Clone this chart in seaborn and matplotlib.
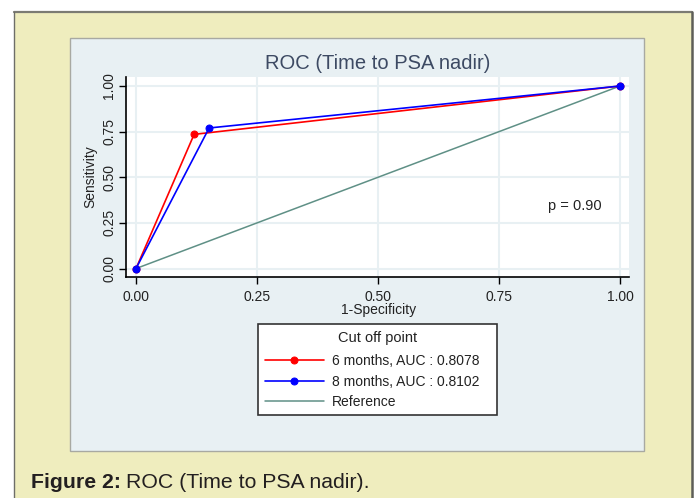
import matplotlib
matplotlib.use("Agg")
import matplotlib.pyplot as plt
import seaborn as sns
from matplotlib.patches import Rectangle
from matplotlib.lines import Line2D
from matplotlib import font_manager

# ==========================================
# DATA
# ==========================================

fpr_6m = [0.0, 0.12, 1.0]
tpr_6m = [0.0, 0.735, 1.0]

fpr_8m = [0.0, 0.151, 1.0]
tpr_8m = [0.0, 0.77, 1.0]

ref_x = [0.0, 1.0]
ref_y = [0.0, 1.0]

labels = ["6 months, AUC : 0.8078", "8 months, AUC : 0.8102", "Reference"]
ticks = [0.0, 0.25, 0.50, 0.75, 1.0]
tick_labels = ["0.00", "0.25", "0.50", "0.75", "1.00"]

# ==========================================
# STYLE
# ==========================================

sns.set_style("white")
plt.rcParams["font.family"] = ["Liberation Sans", "DejaVu Sans"]

names = {f.name for f in font_manager.fontManager.ttflist}
caption_font = "Liberation Sans Narrow" if "Liberation Sans Narrow" in names else "Liberation Sans"

W, H = 695, 498
fig = plt.figure(figsize=(W / 100, H / 100), dpi=100, facecolor="white")


def fx(px):
    return px / W


def fy(py):
    return 1 - py / H


# cream outer panel
fig.add_artist(Rectangle((fx(14), 0), fx(692) - fx(14), fy(12),
                         transform=fig.transFigure, facecolor="#EFEDBE",
                         edgecolor="none", zorder=0))
fig.add_artist(Line2D([fx(14), fx(692)], [fy(12), fy(12)], transform=fig.transFigure,
                      color="#7B7B73", lw=1.6))
fig.add_artist(Line2D([fx(14), fx(14)], [0, fy(12)], transform=fig.transFigure,
                      color="#6E6E68", lw=1.0))
fig.add_artist(Line2D([fx(692), fx(692)], [0, fy(12)], transform=fig.transFigure,
                      color="#5E5E58", lw=1.8))

# light graph region
fig.add_artist(Rectangle((fx(70), fy(451)), fx(644) - fx(70), fy(38) - fy(451),
                         transform=fig.transFigure, facecolor="#E8F0F3",
                         edgecolor="#A8A9A2", lw=1.0, zorder=0))

# ==========================================
# PLOT
# ==========================================

ax = fig.add_axes([fx(126), fy(277.3), fx(629) - fx(126), fy(76.7) - fy(277.3)])
ax.set_facecolor("white")

sns.lineplot(x=ref_x, y=ref_y, ax=ax, color="#5F9086", linewidth=1.1,
             label=labels[2], zorder=2)
sns.lineplot(x=fpr_6m, y=tpr_6m, ax=ax, color="#FF0000", linewidth=1.2,
             marker="o", markersize=5, markeredgecolor="#FF0000", sort=False,
             label=labels[0], zorder=3)
sns.lineplot(x=fpr_8m, y=tpr_8m, ax=ax, color="#0000FF", linewidth=1.2,
             marker="o", markersize=5, markeredgecolor="#0000FF", sort=False,
             label=labels[1], zorder=4)

ax.set_xlim(-0.0207, 1.0186)
ax.set_ylim(-0.048, 1.051)

ax.set_xticks(ticks)
ax.set_xticklabels(tick_labels)
ax.set_yticks(ticks)
ax.set_yticklabels(tick_labels)
plt.setp(ax.get_yticklabels(), rotation=90, va="center")

ax.grid(True, color="#E8F0F3", linewidth=1.5, zorder=0)
ax.set_axisbelow(True)

for side in ["top", "right"]:
    ax.spines[side].set_visible(False)
for side in ["left", "bottom"]:
    ax.spines[side].set_color("black")
    ax.spines[side].set_linewidth(1.2)

ax.tick_params(axis="both", direction="out", length=5, width=1, color="black",
               labelsize=10, labelcolor="#222222",
               bottom=True, left=True)
ax.tick_params(axis="x", pad=4)
ax.tick_params(axis="y", pad=2)

ax.set_xlabel("1-Specificity", fontsize=10, color="#222222")
ax.set_ylabel("Sensitivity", fontsize=10, color="#222222")
ax.xaxis.set_label_coords(0.502, -0.165)
ax.yaxis.set_label_coords(-0.07, 0.5)
ax.xaxis.label.set_va("center")
ax.yaxis.label.set_va("center")
ax.yaxis.label.set_ha("center")

ax.text(0.907, 0.344, "p = 0.90", fontsize=10.5, color="#222222",
        ha="center", va="center")

fig.text(fx(378), fy(63.3), "ROC (Time to PSA nadir)", fontsize=14.5,
         color="#3D4A63", ha="center", va="center")

# legend
handles, _ = ax.get_legend_handles_labels()
order = [1, 2, 0]
leg = ax.legend([handles[i] for i in order], [labels[0], labels[1], labels[2]],
                title="Cut off point", title_fontsize=10.5, fontsize=10,
                loc="upper left",
                bbox_to_anchor=(fx(258.3), fy(324.3), fx(497.3) - fx(258.3), 0.0),
                bbox_transform=fig.transFigure, mode="expand",
                frameon=True, fancybox=False, framealpha=1,
                edgecolor="#333333", handlelength=4.3, handletextpad=0.55,
                labelspacing=0.45, borderpad=0.45, borderaxespad=0)
leg.get_frame().set_linewidth(1.2)
leg._legend_box.sep = 7
for t in leg.get_texts():
    t.set_color("#222222")
leg.get_title().set_color("#222222")

# ==========================================
# CAPTION
# ==========================================

bold = fig.text(fx(31), fy(482), "Figure 2:", fontsize=15.3, fontweight="bold",
                family=caption_font, color="#231F20", ha="left", va="center")
fig.canvas.draw()
bb = bold.get_window_extent()
fig.text(bb.x1 / W + fx(5), fy(482), "ROC (Time to PSA nadir).", fontsize=15.3,
         family=caption_font, color="#231F20", ha="left", va="center")

fig.savefig("out.png", dpi=100, facecolor=fig.get_facecolor())
plt.close()
